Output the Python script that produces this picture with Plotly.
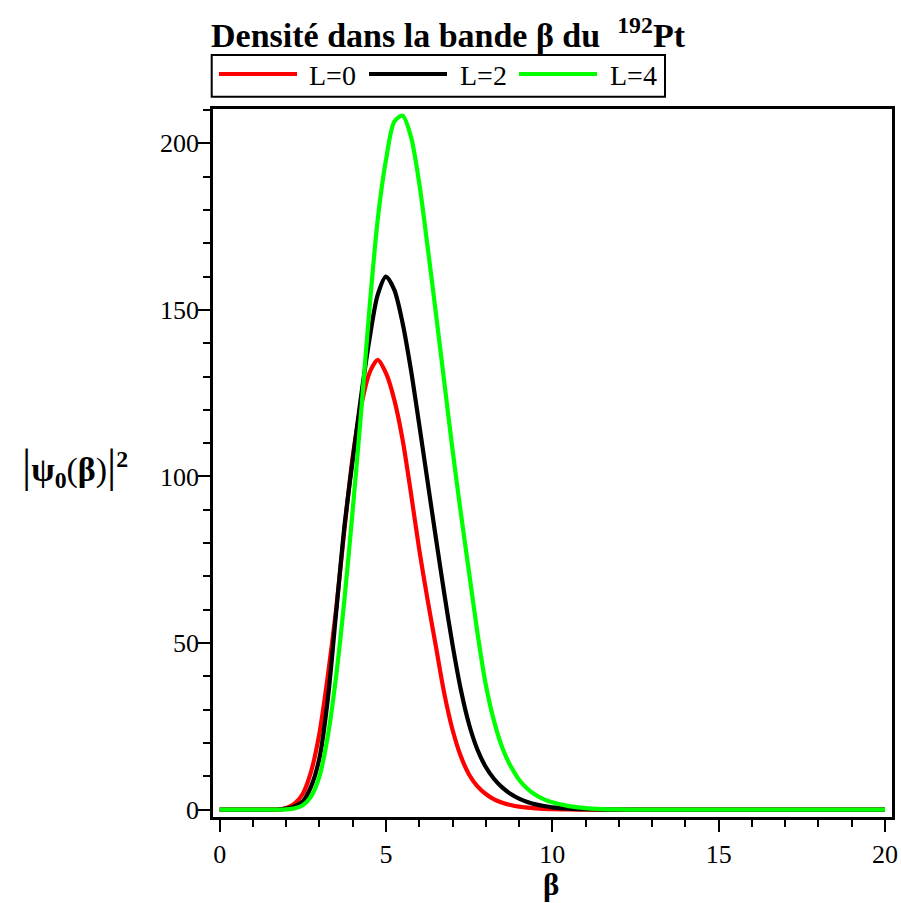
import plotly.graph_objects as go

# ---- data ----
beta = [0.0, 0.5, 1.0, 1.5, 1.75, 2.0, 2.25, 2.5, 2.75, 3.0, 3.25, 3.5, 3.75,
        4.0, 4.25, 4.5, 4.75, 5.0, 5.25, 5.5, 5.75, 6.0, 6.25, 6.5, 6.75,
        7.0, 7.25, 7.5, 7.75, 8.0, 8.25, 8.5, 8.75, 9.0, 9.25, 9.5, 9.75, 10.0,
        10.5, 11.0, 11.5, 12.0, 12.5, 13.0, 14.0, 15.0, 16.0, 17.0, 18.0, 19.0, 20.0]

dens_L0 = [0, 0, 0, 0.02, 0.1, 0.5, 1.8, 4.8, 11.5, 23, 40, 60, 84,
           106, 121, 131, 135, 131, 123, 111, 95, 78, 63, 49, 35,
           24, 16, 10.5, 7, 4.7, 3.1, 2.1, 1.4, 0.9, 0.6, 0.4, 0.25, 0.15,
           0.05, 0.02, 0, 0, 0, 0, 0, 0, 0, 0, 0, 0, 0]

dens_L2 = [0, 0, 0, 0.01, 0.05, 0.3, 1.0, 2.5, 7, 15.5, 33, 59, 85,
           105, 124, 141, 154.5, 160, 156, 146, 132, 115.5, 98.5, 81.5, 65,
           49.5, 36, 25.5, 18, 12.8, 9.2, 6.6, 4.7, 3.3, 2.3, 1.6, 1.1, 0.7,
           0.3, 0.12, 0.04, 0.01, 0, 0, 0, 0, 0, 0, 0, 0, 0]

dens_L4 = [0, 0, 0, 0, 0.02, 0.1, 0.4, 1.3, 4, 10, 22, 40, 63,
           90, 119, 150, 177, 195, 206.5, 208.3, 202, 188, 169, 149, 128.5,
           108, 89, 71, 53, 37.5, 26.5, 18.5, 13, 9, 6.3, 4.4, 3.1, 2.2,
           1.05, 0.45, 0.18, 0.06, 0.02, 0, 0, 0, 0, 0, 0, 0, 0]

series_names = ["L=0", "L=2", "L=4"]
series_colors = ["#FF0000", "#000000", "#00FF00"]
series_values = [dens_L0, dens_L2, dens_L4]

x_ticks = [0, 5, 10, 15, 20]
y_ticks = [0, 50, 100, 150, 200]

FONT = "Liberation Serif"

fig = go.Figure()
for name, col, vals in zip(series_names, series_colors, series_values):
    fig.add_trace(go.Scatter(x=beta, y=vals, mode="lines", name=name,
                             line=dict(color=col, width=4.2, shape="spline", smoothing=0.8),
                             showlegend=False))

axis_common = dict(showline=True, linecolor="black", linewidth=2.5, mirror=True,
                   ticks="outside", ticklen=12, tickwidth=2, tickcolor="black",
                   showgrid=False, zeroline=False, automargin=False,
                   tickfont=dict(family=FONT, size=26, color="black"))

fig.update_xaxes(range=[-0.2, 20.21], tickvals=x_ticks, ticktext=[str(v) for v in x_ticks],
                 minor=dict(dtick=1, tick0=0, ticks="outside", ticklen=7, tickwidth=2,
                            tickcolor="black", showgrid=False),
                 **axis_common)
fig.update_yaxes(range=[-2.2, 210.3], tickvals=y_ticks, ticktext=[str(v) for v in y_ticks],
                 ticklabelstandoff=-6,
                 minor=dict(dtick=10, tick0=0, ticks="outside", ticklen=7, tickwidth=2,
                            tickcolor="black", showgrid=False),
                 **axis_common)

W, H = 901, 903
L, T = 213, 109
R = W - 892
B = H - 817
pw, ph = W - L - R, H - T - B

def px_x(p):
    return (p - L) / pw

def px_y(p):
    return 1 - (p - T) / ph

annotations = []
shapes = []

# title
annotations.append(dict(xref="paper", yref="paper", x=px_x(209), y=px_y(33),
                        xanchor="left", yanchor="middle", showarrow=False,
                        text="<b>Densité dans la bande β du&nbsp; <sup>192</sup>Pt</b>",
                        font=dict(family=FONT, size=34, color="black")))

# legend box (custom drawn)
shapes.append(dict(type="rect", xref="paper", yref="paper",
                   x0=px_x(211.7), x1=px_x(665), y0=px_y(96.7), y1=px_y(55),
                   line=dict(color="black", width=2), fillcolor="white"))
leg_line_x = [(219, 297), (369, 447), (519, 597)]
leg_text_x = [307, 458, 608]
for (a, b), tx, name, col in zip(leg_line_x, leg_text_x, series_names, series_colors):
    shapes.append(dict(type="line", xref="paper", yref="paper",
                       x0=px_x(a), x1=px_x(b), y0=px_y(74), y1=px_y(74),
                       line=dict(color=col, width=4.2)))
    annotations.append(dict(xref="paper", yref="paper", x=px_x(tx), y=px_y(76),
                            xanchor="left", yanchor="middle", showarrow=False,
                            text=name, font=dict(family=FONT, size=28, color="black")))

# y axis label
annotations.append(dict(xref="paper", yref="paper", x=px_x(75), y=px_y(466),
                        xanchor="center", yanchor="middle", showarrow=False,
                        text="<span style='font-size:46px'>|</span><b>ψ<sub>0</sub></b>(<b>β</b>)<span style='font-size:46px'>|</span><sup><b>2</b></sup>",
                        font=dict(family=FONT, size=34, color="black")))

# x axis label
annotations.append(dict(xref="paper", yref="paper", x=px_x(551), y=px_y(885),
                        xanchor="center", yanchor="middle", showarrow=False,
                        text="<b>β</b>", font=dict(family=FONT, size=31, color="black")))

fig.update_layout(width=W, height=H, margin=dict(l=L, r=R, t=T, b=B, autoexpand=False),
                  plot_bgcolor="white", paper_bgcolor="white",
                  annotations=annotations, shapes=shapes, showlegend=False,
                  font=dict(family=FONT, color="black"))

fig.write_html("out.html", config={"displayModeBar": False},
               post_script="document.body.style.margin='0';document.body.style.overflow='hidden';")
